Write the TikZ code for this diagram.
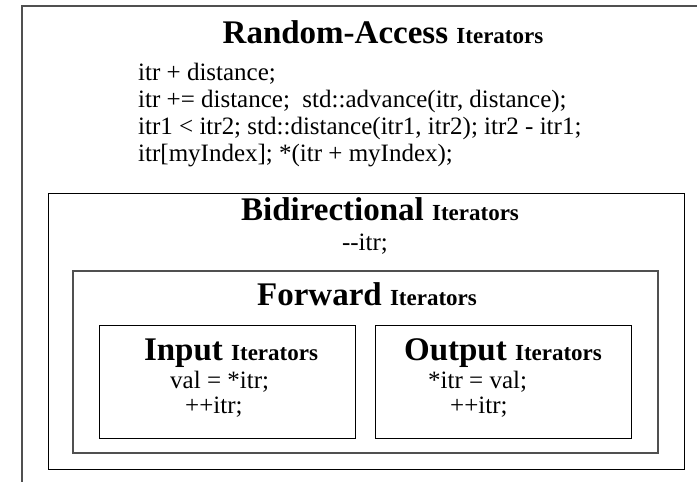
\documentclass[tikz,border=0pt]{standalone}
\usepackage{fontspec}
\setmainfont{Liberation Serif}

\newcommand{\itertitle}[1]{{\fontsize{33}{33}\selectfont\bfseries #1\ }{\fontsize{23}{23}\selectfont\bfseries Iterators}}

\begin{document}
\begin{tikzpicture}[x=1pt,y=-1pt]
\tikzstyle{every node}+=[inner sep=0pt]
\tikzstyle{frame}=[draw={rgb,255:red,80;green,80;blue,80},line width=1.3pt]
\tikzstyle{inner}=[draw=black,line width=1pt]
\tikzstyle{code}=[anchor=base west,font=\fontsize{25}{27}\selectfont]
\tikzstyle{title}=[anchor=base]
\useasboundingbox (0,0) rectangle (697,482);
\clip (0,0) rectangle (697,482);
% outer box, cut off at the right and bottom
\draw [frame] (22,6) rectangle (720,505);
\draw (383,43) node [title] (ratitle) {\itertitle{Random-Access}};
\draw (138,80) node [code] (ra1) {itr + distance;};
\draw (138,107) node [code] (ra2) {itr += distance;\ \ std::advance(itr, distance);};
\draw (138,134) node [code] (ra3) {itr1 < itr2; std::distance(itr1, itr2); itr2 - itr1;};
\draw (138,161) node [code] (ra4) {itr[myIndex]; *(itr + myIndex);};
% bidirectional
\draw [inner] (48,193) rectangle (684,469);
\draw (380,220) node [title] (bititle) {\itertitle{Bidirectional}};
\draw (365,250) node [title,font=\fontsize{25}{27}\selectfont] (bi1) {-{}-itr;};
% forward
\draw [frame] (73,271) rectangle (658,453);
\draw (367,305) node [title] (fwtitle) {\itertitle{Forward}};
% input
\draw [inner] (99,325) rectangle (355,438);
\draw (231,360) node [title] (intitle) {\itertitle{Input}};
\draw (170,388) node [code] (in1) {val = *itr;};
\draw (185,413) node [code] (in2) {++itr;};
% output
\draw [inner] (375,325) rectangle (631,438);
\draw (503,360) node [title] (outtitle) {\itertitle{Output}};
\draw (428,388) node [code] (out1) {*itr = val;};
\draw (450,413) node [code] (out2) {++itr;};
\end{tikzpicture}
\end{document}
